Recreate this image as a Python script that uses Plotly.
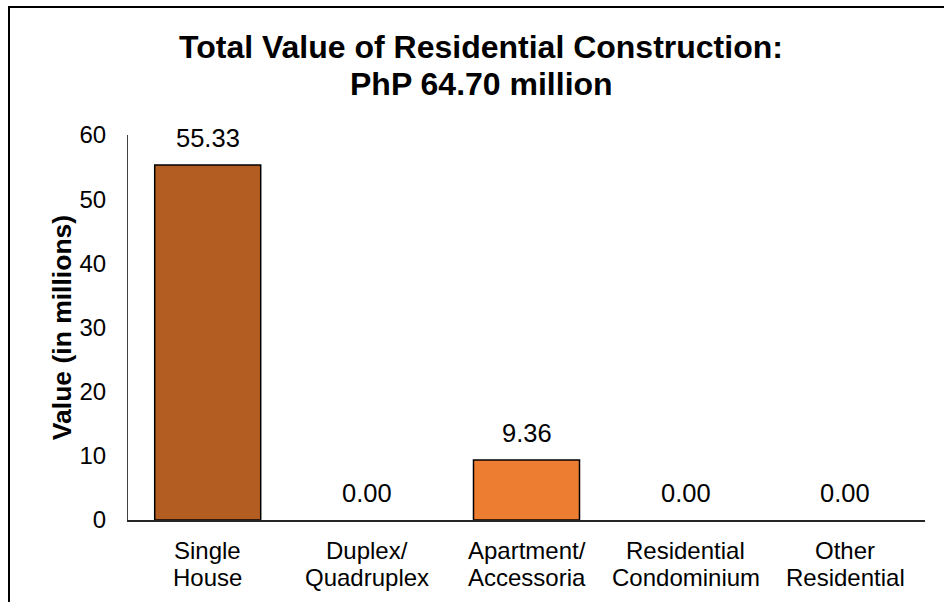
import plotly.graph_objects as go

categories = ["Single House", "Duplex/ Quadruplex", "Apartment/ Accessoria",
              "Residential Condominium", "Other Residential"]
tick_line1 = ["Single", "Duplex/", "Apartment/", "Residential", "Other"]
tick_line2 = ["House", "Quadruplex", "Accessoria", "Condominium", "Residential"]
values = [55.33, 0.00, 9.36, 0.00, 0.00]
bar_colors = ["#B35D22", "#ED7D31", "#ED7D31", "#ED7D31", "#ED7D31"]
title_line1 = "Total Value of Residential Construction:"
title_line2 = "PhP 64.70 million"
y_title = "Value (in millions)"

FONT = "Arial, Liberation Sans, sans-serif"

fig = go.Figure()
fig.add_trace(go.Bar(
    x=categories, y=values,
    marker=dict(color=bar_colors,
                line=dict(color="#000000", width=[1.5 if v > 0 else 0 for v in values])),
    showlegend=False, hoverinfo="skip",
))

annotations = []
for c, v in zip(categories, values):
    annotations.append(dict(
        x=c, y=v, xref="x", yref="y", text=f"{v:.2f}", showarrow=False,
        yanchor="bottom", yshift=11, font=dict(family=FONT, size=25.5, color="#000000"),
    ))

# two-line category labels (tighter line spacing than plotly's tick labels)
for c, l1, l2 in zip(categories, tick_line1, tick_line2):
    annotations.append(dict(x=c, y=0, xref="x", yref="y", text=l1, showarrow=False,
                            yanchor="middle", yshift=-30,
                            font=dict(family=FONT, size=24, color="#000000")))
    annotations.append(dict(x=c, y=0, xref="x", yref="y", text=l2, showarrow=False,
                            yanchor="middle", yshift=-57,
                            font=dict(family=FONT, size=24, color="#000000")))

# title lines
annotations.append(dict(x=(481 - 128) / 797, y=(520 - 47) / 385, xref="paper", yref="paper",
                        text=f"<b>{title_line1}</b>", showarrow=False, xanchor="center",
                        yanchor="middle", font=dict(family=FONT, size=32, color="#000000")))
annotations.append(dict(x=(481 - 128) / 797, y=(520 - 84) / 385, xref="paper", yref="paper",
                        text=f"<b>{title_line2}</b>", showarrow=False, xanchor="center",
                        yanchor="middle", font=dict(family=FONT, size=32, color="#000000")))

fig.update_layout(
    template="none",
    width=944, height=602,
    margin=dict(l=128, r=19, t=135, b=82, pad=0),
    paper_bgcolor="white", plot_bgcolor="white",
    bargap=0.335,
    annotations=annotations,
    font=dict(family=FONT, color="#000000"),
    shapes=[dict(type="rect", xref="paper", yref="paper",
                 x0=(9 - 128) / 797, x1=1.2, y0=-0.5, y1=(520 - 7) / 385,
                 line=dict(color="#000000", width=2), fillcolor="rgba(0,0,0,0)", layer="above")],
)

fig.update_xaxes(
    automargin=False, showticklabels=False,
    showline=True, linecolor="#262626", linewidth=1.5, showgrid=False, zeroline=False,
    ticks="",
)
fig.update_yaxes(
    automargin=False,
    range=[0, 60], dtick=10, showline=True, linecolor="#404040", linewidth=1,
    showgrid=False, zeroline=False,
    ticks="outside", ticklen=16, tickcolor="rgba(0,0,0,0)",
    tickfont=dict(family=FONT, size=24, color="#000000"),
    title=dict(text=f"<b>{y_title}</b>", font=dict(family=FONT, size=26.5, color="#000000"),
               standoff=0),
)

fig.write_html("out.html", config={"displayModeBar": False},
               post_script="document.body.style.margin='0';document.body.style.overflow='hidden';")
